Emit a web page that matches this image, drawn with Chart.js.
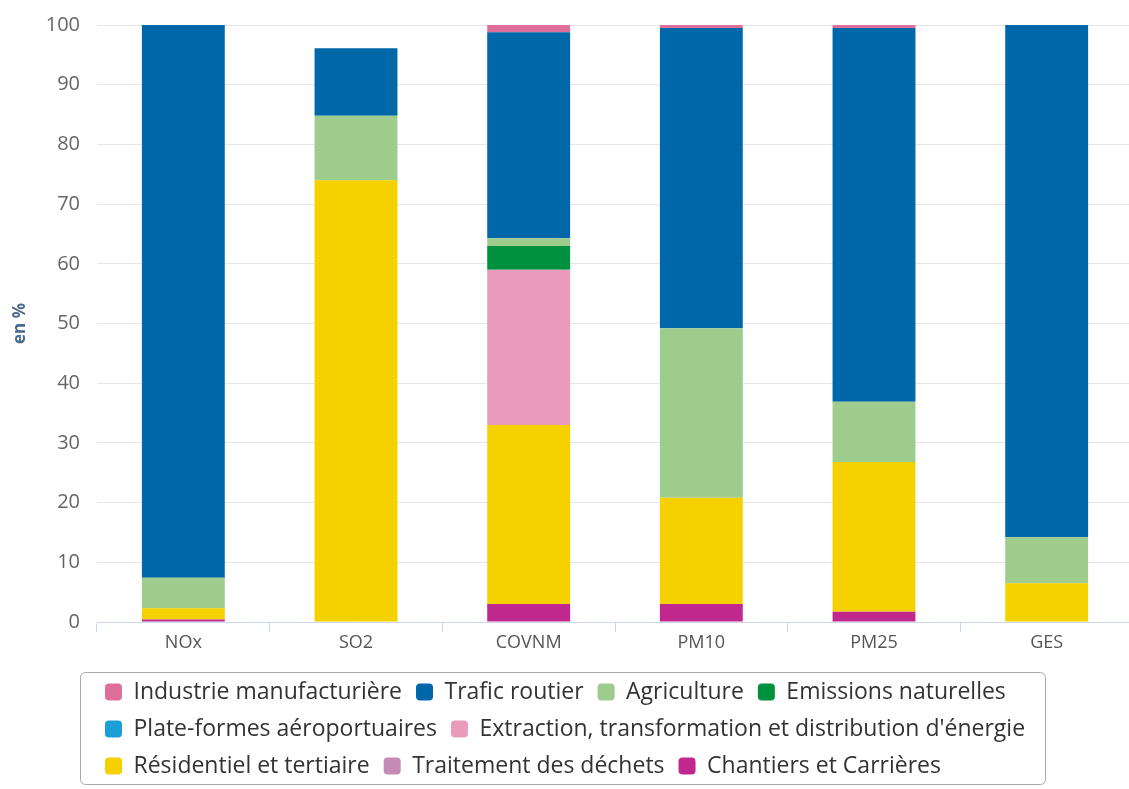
<!DOCTYPE html>
<html>
<head>
<meta charset="utf-8">
<script src="https://cdn.jsdelivr.net/npm/chart.js@4.4.1/dist/chart.umd.min.js"></script>
<style>
  html, body { margin: 0; padding: 0; background: #ffffff; overflow: hidden; }
  #wrap { width: 1129px; height: 789px; overflow: hidden; }
</style>
</head>
<body>
<div id="wrap"><canvas id="chart" width="1133" height="789"></canvas></div>
<script>
// Polluants
const categories = ['NOx', 'SO2', 'COVNM', 'PM10', 'PM25', 'GES'];

// Part de chaque secteur dans les émissions (en %)
const industrie          = [0,    0,    1.2,  0.5,  0.5,  0];
const traficRoutier      = [92.6, 11.3, 34.5, 50.3, 62.6, 85.8];
const agriculture        = [5.1,  10.8, 1.3,  28.4, 10.1, 7.7];
const emissionsNaturelles= [0,    0,    4.0,  0,    0,    0];
const plateformes        = [0,    0,    0,    0,    0,    0];
const extraction         = [0,    0,    26.0, 0,    0,    0];
const residentiel        = [1.9,  74.0, 30.0, 17.8, 25.1, 6.5];
const traitementDechets  = [0,    0,    0,    0,    0,    0];
const chantiers          = [0.4,  0,    3.0,  3.0,  1.7,  0];

const yTickValues = [0, 10, 20, 30, 40, 50, 60, 70, 80, 90, 100];

const FONT = "'Open Sans', 'DejaVu Sans', sans-serif";

// Datasets listed bottom-to-top of each stack; the legend shows them reversed.
const series = [
  { label: 'Chantiers et Carrières', data: chantiers, color: '#c0288e' },
  { label: 'Traitement des déchets', data: traitementDechets, color: '#c68ab8' },
  { label: 'Résidentiel et tertiaire', data: residentiel, color: '#f6d100' },
  { label: "Extraction, transformation et distribution d'énergie", data: extraction, color: '#e89bba' },
  { label: 'Plate-formes aéroportuaires', data: plateformes, color: '#1a9fd6' },
  { label: 'Emissions naturelles', data: emissionsNaturelles, color: '#00913f' },
  { label: 'Agriculture', data: agriculture, color: '#9dcc8d' },
  { label: 'Trafic routier', data: traficRoutier, color: '#0067a8' },
  { label: 'Industrie manufacturière', data: industrie, color: '#de6f9b' }
];

// Framed legend placed like a box under the axis.
const legendFrame = {
  id: 'legendFrame',
  afterLayout(chart) {
    const lg = chart.legend;
    if (!lg) return;
    lg.left = 91;
    lg.right = 1045;
  },
  afterDraw(chart) {
    const lg = chart.legend;
    if (!lg) return;
    const ctx = chart.ctx;
    const x = 80, y = Math.round(lg.top + 5.5), w = 1045 - 80, h = 112;
    const r = 5;
    ctx.save();
    ctx.strokeStyle = '#a8a8a8';
    ctx.lineWidth = 1;
    ctx.beginPath();
    ctx.moveTo(x + r + 0.5, y + 0.5);
    ctx.arcTo(x + w + 0.5, y + 0.5, x + w + 0.5, y + h + 0.5, r);
    ctx.arcTo(x + w + 0.5, y + h + 0.5, x + 0.5, y + h + 0.5, r);
    ctx.arcTo(x + 0.5, y + h + 0.5, x + 0.5, y + 0.5, r);
    ctx.arcTo(x + 0.5, y + 0.5, x + w + 0.5, y + 0.5, r);
    ctx.closePath();
    ctx.stroke();
    ctx.restore();
  }
};

new Chart(document.getElementById('chart'), {
  type: 'bar',
  data: {
    labels: categories,
    datasets: series.map(s => ({
      label: s.label,
      data: s.data,
      backgroundColor: s.color,
      borderWidth: 0,
      categoryPercentage: 0.48,
      barPercentage: 1
    }))
  },
  options: {
    responsive: false,
    animation: false,
    devicePixelRatio: 1,
    layout: { padding: { top: 25, right: 0, bottom: 1.5, left: 0 } },
    scales: {
      x: {
        stacked: true,
        grid: {
          display: true,
          offset: true,
          drawOnChartArea: false,
          drawTicks: true,
          tickLength: 10,
          color: '#ccd6eb'
        },
        border: { display: true, color: '#ccd6eb', width: 1 },
        ticks: { font: { family: FONT, size: 18 }, color: '#555555', padding: 0 },
        afterFit(scale) { scale.height = 44.5; }
      },
      y: {
        stacked: true,
        min: 0,
        max: 100,
        afterBuildTicks(scale) { scale.ticks = yTickValues.map(v => ({ value: v })); },
        grid: { color: '#e6e6e6', drawTicks: false, lineWidth: 1 },
        border: { display: false },
        ticks: { font: { family: FONT, size: 20 }, color: '#666666', padding: 17 },
        title: {
          display: true,
          text: 'en %',
          color: '#4a6a8c',
          font: { family: FONT, size: 17, weight: 'bold' },
          padding: { top: 10, bottom: 0 }
        },
        afterFit(scale) {
          scale.width = 97;
          scale.paddingTop = 0;
          scale.paddingBottom = 0;
        }
      }
    },
    plugins: {
      legend: {
        position: 'bottom',
        align: 'start',
        reverse: true,
        labels: {
          font: { family: FONT, size: 23 },
          color: '#333333',
          boxWidth: 17,
          boxHeight: 17,
          padding: 14,
          useBorderRadius: true,
          borderRadius: 4
        }
      },
      tooltip: { enabled: false }
    }
  },
  plugins: [legendFrame]
});
</script>
</body>
</html>
